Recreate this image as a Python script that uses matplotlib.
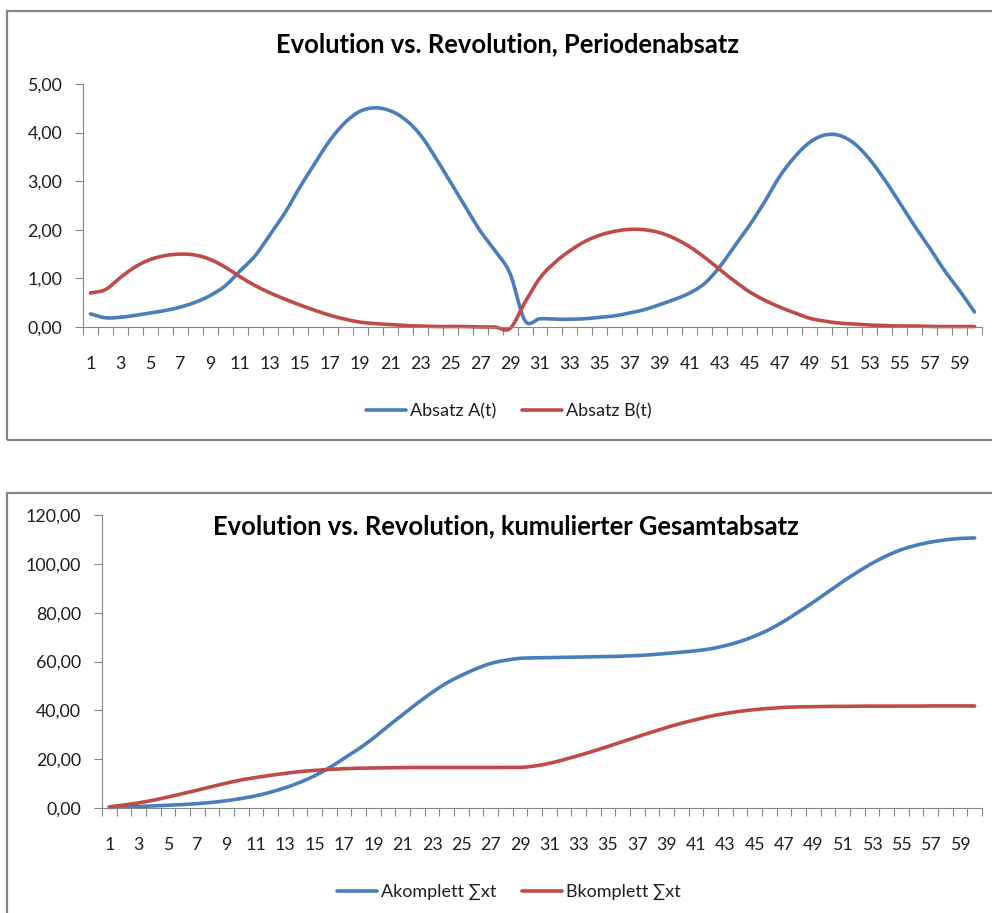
import numpy as np
import matplotlib.pyplot as plt
from matplotlib.patches import Rectangle

W, H = 992, 913
DPI = 100

# Perioden 1..60
perioden = list(range(1, 61))

# Periodenabsatz
absatz_a = [0.27, 0.19, 0.20, 0.24, 0.29, 0.34, 0.41, 0.51, 0.65, 0.85,
            1.16, 1.47, 1.91, 2.36, 2.89, 3.38, 3.85, 4.21, 4.44, 4.51,
            4.45, 4.27, 3.96, 3.50, 2.99, 2.48, 1.98, 1.57, 1.10, 0.13,
            0.17, 0.16, 0.16, 0.17, 0.20, 0.23, 0.29, 0.36, 0.46, 0.57,
            0.70, 0.90, 1.24, 1.67, 2.10, 2.58, 3.10, 3.50, 3.80, 3.95,
            3.94, 3.77, 3.45, 3.03, 2.56, 2.08, 1.63, 1.16, 0.75, 0.31]
absatz_b = [0.70, 0.77, 1.02, 1.24, 1.39, 1.47, 1.50, 1.48, 1.39, 1.23,
            1.03, 0.85, 0.70, 0.57, 0.45, 0.34, 0.24, 0.16, 0.10, 0.07,
            0.05, 0.03, 0.02, 0.01, 0.01, 0.01, 0.00, 0.00, -0.03, 0.51,
            1.01, 1.33, 1.57, 1.76, 1.89, 1.97, 2.01, 2.00, 1.94, 1.82,
            1.65, 1.43, 1.18, 0.94, 0.72, 0.55, 0.41, 0.29, 0.18, 0.12,
            0.08, 0.06, 0.04, 0.03, 0.02, 0.02, 0.01, 0.01, 0.01, 0.01]

# kumulierter Gesamtabsatz
akomplett = [0.2, 0.4, 0.6, 0.85, 1.1, 1.4, 1.8, 2.3, 3.0, 3.9,
             5.0, 6.5, 8.3, 10.5, 13.2, 16.5, 20.3, 24.2, 28.6, 33.5,
             38.2, 42.9, 47.3, 51.2, 54.3, 57.0, 59.2, 60.5, 61.3, 61.5,
             61.6, 61.7, 61.8, 61.9, 62.0, 62.2, 62.4, 62.8, 63.3, 63.8,
             64.4, 65.2, 66.5, 68.2, 70.4, 73.1, 76.5, 80.3, 84.3, 88.5,
             92.7, 96.6, 100.2, 103.3, 105.8, 107.6, 108.9, 109.8, 110.4, 110.6]
bkomplett = [0.5, 1.2, 2.1, 3.2, 4.5, 5.9, 7.3, 8.8, 10.2, 11.5,
             12.5, 13.4, 14.2, 14.9, 15.4, 15.8, 16.1, 16.3, 16.4, 16.5,
             16.6, 16.6, 16.6, 16.6, 16.6, 16.6, 16.6, 16.6, 16.6, 17.2,
             18.3, 19.8, 21.5, 23.3, 25.2, 27.2, 29.2, 31.1, 33.0, 34.7,
             36.2, 37.6, 38.7, 39.6, 40.3, 40.8, 41.2, 41.4, 41.5, 41.6,
             41.6, 41.7, 41.7, 41.7, 41.7, 41.7, 41.8, 41.8, 41.8, 41.8]

BLUE = '#4A7EBB'
RED = '#BE4B48'
GREY = '#868686'
TXT = '#1e1e1e'

plt.rcParams['font.family'] = ['Lato', 'DejaVu Sans']


def smooth(x, y, n=16):
    # Catmull-Rom curve through the points (Excel "smoothed line")
    x = np.asarray(x, float)
    y = np.asarray(y, float)
    mx, my = np.gradient(x), np.gradient(y)
    t = np.linspace(0, 1, n, endpoint=False)
    h00 = 2 * t**3 - 3 * t**2 + 1
    h10 = t**3 - 2 * t**2 + t
    h01 = -2 * t**3 + 3 * t**2
    h11 = t**3 - t**2
    xs, ys = [], []
    for i in range(len(x) - 1):
        xs.append(h00 * x[i] + h10 * mx[i] + h01 * x[i + 1] + h11 * mx[i + 1])
        ys.append(h00 * y[i] + h10 * my[i] + h01 * y[i + 1] + h11 * my[i + 1])
    xs.append([x[-1]])
    ys.append([y[-1]])
    return np.concatenate(xs), np.concatenate(ys)


fig = plt.figure(figsize=(W / DPI, H / DPI), dpi=DPI)


def px_axes(left, top, right, bottom):
    return fig.add_axes([left / W, 1 - bottom / H, (right - left) / W, (bottom - top) / H])


def frame(left, top, right, bottom):
    fig.patches.append(Rectangle((left / W, 1 - bottom / H), (right - left) / W,
                                 (bottom - top) / H, transform=fig.transFigure,
                                 fill=False, edgecolor=GREY, linewidth=1.6))


def style(ax, ymax, ystep):
    ax.set_xlim(0.5, 60.5)
    ax.set_ylim(0, ymax)
    yt = np.arange(0, ymax + ystep / 2, ystep)
    ax.set_yticks(yt)
    ax.set_yticklabels([f'{v:.2f}'.replace('.', ',') for v in yt])
    ax.set_xticks(np.arange(0.5, 61, 1))
    ax.set_xticklabels([])
    ax.set_xticks(perioden[::2], minor=True)
    ax.set_xticklabels([str(p) for p in perioden[::2]], minor=True)
    ax.tick_params(axis='x', which='major', length=6, width=0.8, color=GREY)
    ax.tick_params(axis='x', which='minor', length=0, pad=21, labelsize=12.8, labelcolor=TXT)
    ax.tick_params(axis='y', length=6, width=0.8, color=GREY, pad=9,
                   labelsize=12.8, labelcolor=TXT)
    for s in ('top', 'right'):
        ax.spines[s].set_visible(False)
    for s in ('left', 'bottom'):
        ax.spines[s].set_color(GREY)
        ax.spines[s].set_linewidth(0.8)
    ax.patch.set_alpha(0)


def legend(ax, y):
    fig.legend(*ax.get_legend_handles_labels(), loc='center',
               bbox_to_anchor=(509 / W, 1 - y / H), ncol=2, frameon=False,
               fontsize=13, handlelength=2.2, handletextpad=0.25, columnspacing=1.4,
               labelcolor=TXT)


# Chart 1: Periodenabsatz
frame(7, 11, 1030, 440)
ax1 = px_axes(83, 84, 982, 327)
style(ax1, 5, 1)
ax1.plot(*smooth(perioden, absatz_a), color=BLUE, lw=2.6, label='Absatz A(t)',
         solid_capstyle='round', clip_on=False)
ax1.plot(*smooth(perioden, absatz_b), color=RED, lw=2.6, label='Absatz B(t)',
         solid_capstyle='round', clip_on=False)
fig.text(507 / W, 1 - 44 / H, 'Evolution vs. Revolution, Periodenabsatz',
         ha='center', va='center', fontsize=18.4, fontweight='bold', color='black')
legend(ax1, 411)

# Chart 2: kumulierter Gesamtabsatz
frame(7, 493, 1030, 950)
ax2 = px_axes(102, 515, 982, 808)
style(ax2, 120, 20)
ax2.plot(*smooth(perioden, akomplett), color=BLUE, lw=2.6, label='Akomplett ∑xt',
         solid_capstyle='round', clip_on=False)
ax2.plot(*smooth(perioden, bkomplett), color=RED, lw=2.6, label='Bkomplett ∑xt',
         solid_capstyle='round', clip_on=False)
fig.text(506 / W, 1 - 526 / H, 'Evolution vs. Revolution, kumulierter Gesamtabsatz',
         ha='center', va='center', fontsize=18.4, fontweight='bold', color='black')
legend(ax2, 892)

fig.savefig('out.png', dpi=DPI)
